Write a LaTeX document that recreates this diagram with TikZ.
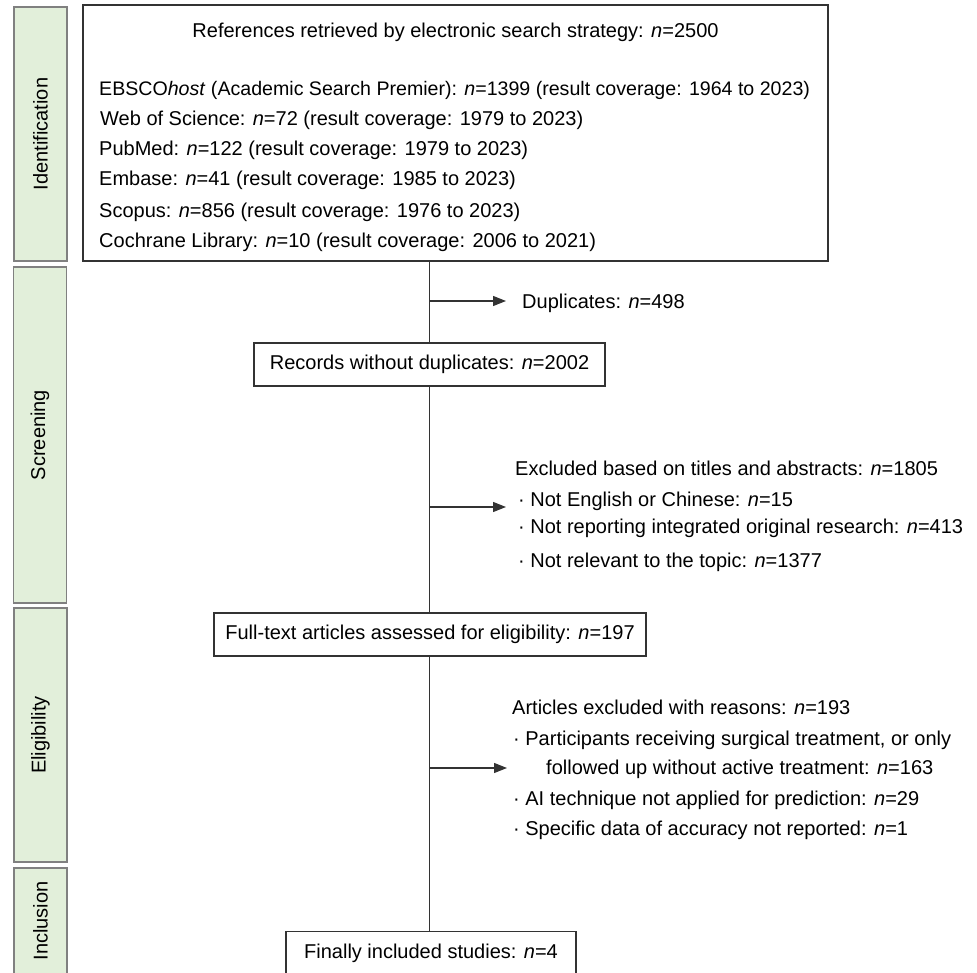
\documentclass[tikz,border=0pt]{standalone}
\usepackage{fontspec}
\setmainfont{Liberation Sans}
\usetikzlibrary{arrows.meta}
\definecolor{phasegreen}{HTML}{E2EFDA}
\definecolor{linegray}{HTML}{333333}
\begin{document}
\begin{tikzpicture}[x=1pt,y=-1pt,
  txt/.style={font=\fontsize{20}{24}\selectfont, inner sep=0pt, text=black},
  box/.style={txt, draw=linegray, line width=1.2pt, fill=white, minimum height=43pt},
  phase/.style={txt, draw=black!50, fill=phasegreen, line width=1.1pt, rotate=90, minimum height=53pt},
  flow/.style={draw=linegray, line width=1.2pt},
  branch/.style={flow, -{Triangle[length=13pt,width=10pt]}}]
\useasboundingbox (0,0) rectangle (977,972);
\clip (0,0) rectangle (977,972);
% phase bars
\node[phase, minimum width=254pt] (idbar) at (40.5,134) {Identification};
\node[phase, minimum width=336pt] (scbar) at (40,435) {Screening};
\node[phase, minimum width=254pt] (elbar) at (40.5,735) {Eligibility};
\node[phase, minimum width=106pt] (inbar) at (40.5,921) {Inclusion};
% top box
\node[box, minimum width=745pt, minimum height=256pt] (top) at (455.5,133) {};
\node[txt, anchor=base] (t0) at (455.5,37) {References retrieved by electronic search strategy: \textit{n}=2500};
\node[txt, font=\fontsize{19.6}{24}\selectfont, anchor=base west] (t1) at (99,95) {EBSCO\textit{host} (Academic Search Premier): \textit{n}=1399 (result coverage: 1964 to 2023)};
\node[txt, anchor=base west] (t2) at (100,125) {Web of Science: \textit{n}=72 (result coverage: 1979 to 2023)};
\node[txt, anchor=base west] (t3) at (99,155) {PubMed: \textit{n}=122 (result coverage: 1979 to 2023)};
\node[txt, anchor=base west] (t4) at (99,185) {Embase: \textit{n}=41 (result coverage: 1985 to 2023)};
\node[txt, anchor=base west] (t5) at (99,217) {Scopus: \textit{n}=856 (result coverage: 1976 to 2023)};
\node[txt, anchor=base west] (t6) at (99,247) {Cochrane Library: \textit{n}=10 (result coverage: 2006 to 2021)};
% main boxes
\node[box, minimum width=351pt] (rec) at (429.5,364.5) {Records without duplicates: \textit{n}=2002};
\node[box, minimum width=432pt] (full) at (430,634.5) {Full-text articles assessed for eligibility: \textit{n}=197};
\node[box, minimum width=290pt] (fin) at (431,953) {Finally included studies: \textit{n}=4};
% main vertical line
\draw[flow] (rec.north |- top.south) -- (rec.north);
\draw[flow] (rec.south) -- (full.north -| rec.south);
\draw[flow] (full.south -| rec.south) -- (fin.north -| rec.south);
% duplicates
\coordinate (b1) at (429,301);
\coordinate (e1) at (506,301);
\draw[branch] (b1) -- (e1);
\node[txt, anchor=base west] (dup) at (522,308) {Duplicates: \textit{n}=498};
% excluded titles/abstracts
\coordinate (b2) at (429,507);
\coordinate (e2) at (506,507);
\draw[branch] (b2) -- (e2);
\node[txt, anchor=base west] (x0) at (515,475) {Excluded based on titles and abstracts: \textit{n}=1805};
\node[txt, anchor=base west] (x1) at (518,506) {· Not English or Chinese: \textit{n}=15};
\node[txt, anchor=base west] (x2) at (518,533) {· Not reporting integrated original research: \textit{n}=413};
\node[txt, anchor=base west] (x3) at (518,567) {· Not relevant to the topic: \textit{n}=1377};
% excluded with reasons
\coordinate (b3) at (429,768);
\coordinate (e3) at (507,768);
\draw[branch] (b3) -- (e3);
\node[txt, anchor=base west] (y0) at (512,714) {Articles excluded with reasons: \textit{n}=193};
\node[txt, anchor=base west] (y1) at (513,745) {· Participants receiving surgical treatment, or only};
\node[txt, anchor=base west] (y2) at (546,774) {followed up without active treatment: \textit{n}=163};
\node[txt, anchor=base west] (y3) at (513,805) {· AI technique not applied for prediction: \textit{n}=29};
\node[txt, anchor=base west] (y4) at (513,835) {· Specific data of accuracy not reported: \textit{n}=1};
\end{tikzpicture}
\end{document}
